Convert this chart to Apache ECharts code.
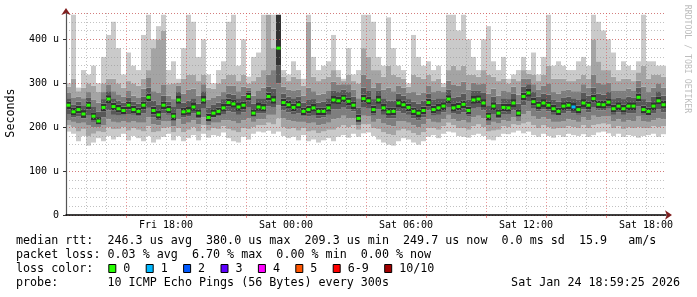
<!DOCTYPE html>
<html><head><meta charset="utf-8">
<script src="https://cdn.jsdelivr.net/npm/echarts@6/dist/echarts.min.js"></script>
<style>html,body{margin:0;padding:0;background:#fff}#c{width:697px;height:297px}</style>
</head><body><div id="c"></div>
<script>
// ---- data: 15-minute bins from Fri 13:00 to Sat 19:00 (sorted ping values, microseconds) ----
const p1 = [190,185,168,180,158,165,175,168,180,172, 178,185,170,180,175,168,180,165,172,178, 185,170,180,168,175,182,170,185,176,182, 180,188,175,168,165,178,172,185,190,188, 192,185,190,180,175,178,170,182,168,172, 165,170,175,168,178,182,176,185,178,186, 188,180,172,165,160,158,168,175,172,165, 160,168,178,182,175,185,190,188,180,178, 176,182,185,180,172,170,178,185,184,188, 192,186,190,182,178,185,180,176,182,178, 185,182,180,184,178,182,188,190,186,180, 185,178,182,180,176,180,182,185,178,184];
const p2 = [204,200,190,196,180,185,190,188,200,195, 196,200,192,198,194,190,202,188,190,198, 200,188,198,188,194,200,190,204,192,198, 196,202,196,192,188,198,196,200,204,204, 210,206,220,200,196,198,192,198,190,192, 186,190,194,194,200,204,200,204,194,206, 206,198,196,188,184,182,192,196,192,186, 182,188,198,198,194,202,210,204,198,198, 194,202,206,200,190,192,194,202,200,206, 204,208,212,204,198,204,200,196,198,198, 202,200,198,204,198,204,206,208,206,198, 202,196,200,198,200,198,198,202,200,202];
const p3 = [215,212,208,210,205,200,200,205,218,212, 210,214,210,214,210,210,222,206,204,214, 214,202,218,206,210,216,206,222,204,210, 210,216,216,214,208,216,220,212,218,218, 228,228,250,220,216,214,212,212,208,210, 204,206,210,218,220,226,220,220,204,226, 224,212,218,208,204,202,214,214,210,204, 200,206,218,212,210,218,228,218,214,216, 210,222,226,220,204,212,208,216,214,222, 214,230,236,224,218,222,218,212,212,214, 218,216,212,222,216,226,222,224,224,214, 218,212,216,214,224,214,212,216,220,218];
const p4 = [230,222,224,220,226,212,206,222,238,228, 226,226,230,228,224,232,244,222,216,232, 228,214,240,222,224,232,220,242,212,222, 224,230,236,234,228,234,246,224,232,232, 248,246,300,238,234,230,232,224,224,226, 220,222,228,240,240,246,240,236,212,246, 242,226,240,228,220,220,236,232,228,220, 216,222,238,226,228,234,246,232,230,234, 224,242,246,238,214,230,220,230,230,238, 224,250,258,242,236,240,236,228,226,232, 236,232,228,240,234,246,238,238,242,228, 234,228,232,232,248,228,226,232,240,234];
const p5 = [241,226,231,221,241,216,206,236,255,238, 233,229,241,231,227,241,259,229,219,241, 231,216,253,226,228,237,223,253,213,223, 227,235,247,244,237,241,261,224,237,235, 261,253,340,247,242,236,242,227,231,235, 227,227,235,253,251,257,250,241,212,256, 251,231,253,235,226,227,246,242,236,227, 223,229,247,231,235,239,255,235,238,243, 229,253,255,246,216,239,223,236,235,246, 224,261,269,249,241,246,241,233,227,239, 241,237,231,246,241,256,243,242,248,233, 239,233,239,239,259,231,227,239,251,242];
const p6 = [259,244,249,239,259,234,223,254,273,256, 251,247,259,249,245,259,277,247,237,259, 249,234,271,244,246,255,241,271,231,241, 245,253,265,262,255,259,279,241,255,253, 279,271,456,265,260,254,260,245,249,253, 245,245,253,271,269,275,268,259,229,274, 269,249,271,253,244,245,264,260,254,245, 241,247,265,249,253,257,273,253,256,261, 247,271,273,264,234,257,241,254,253,264, 241,279,287,267,259,264,259,251,245,257, 259,255,249,264,259,274,261,260,266,251, 257,251,257,257,277,249,245,257,269,260];
const p7 = [266,252,258,250,268,246,235,264,282,266, 260,256,268,258,254,270,290,260,252,272, 258,246,280,256,260,266,254,282,244,252, 256,264,276,274,266,272,284,254,266,266, 292,288,456,276,270,266,270,256,262,264, 256,258,266,284,280,286,280,270,244,290, 284,264,284,266,260,260,276,272,264,258, 254,260,276,262,266,266,286,268,270,276, 262,284,284,278,250,270,254,266,264,276, 254,292,298,280,270,276,274,262,258,268, 270,266,262,278,272,290,276,274,280,264, 268,264,270,268,290,264,258,270,282,272];
const p8 = [278,268,270,266,280,262,256,280,296,282, 275,270,284,272,268,288,312,282,278,296, 272,264,294,276,285,288,272,298,262,268, 272,280,294,294,282,292,290,272,284,290, 320,330,456,292,286,284,286,272,290,282, 274,276,284,304,296,298,298,286,266,320, 310,290,302,286,290,282,294,290,278,280, 274,278,294,280,284,280,306,296,294,304, 286,302,298,300,276,288,272,284,280,292, 274,310,310,298,286,294,300,280,276,284, 286,282,282,298,290,320,302,298,302,284, 284,284,288,284,306,292,280,290,300,290];
const p9 = [292,310,282,290,300,295,280,300,310,310, 300,290,305,300,295,310,330,380,400,420, 298,300,302,310,320,320,305,320,290,288, 300,310,320,320,305,320,300,305,315,330, 456,380,456,315,305,315,310,295,440,315, 305,310,315,330,315,305,320,305,300,380, 360,330,330,315,340,320,315,310,292,320, 315,310,320,305,310,292,330,340,330,340, 320,320,315,330,320,315,305,310,300,310, 305,330,322,320,305,320,340,310,310,310, 305,305,310,320,310,400,350,330,330,315, 305,310,310,305,325,340,310,320,320,315];
const p10 = [300,456,290,330,320,340,300,360,410,440, 380,320,370,340,330,410,456,400,430,456, 330,350,310,380,456,440,360,400,320,300, 330,350,440,456,340,400,315,360,370,456, 456,456,456,330,320,350,330,310,456,360, 330,340,350,410,330,310,380,320,330,456, 456,440,360,340,450,380,340,330,300,410, 360,340,350,330,340,300,456,456,420,456, 400,360,330,400,430,350,330,360,310,320, 330,360,330,370,320,360,456,340,350,340, 330,330,350,360,340,456,440,420,400,370, 330,350,340,330,350,456,350,350,340,340];
const median = [250,235,240,230,250,225,214,245,264,247, 242,238,250,240,236,250,268,238,228,250, 240,225,262,235,237,246,232,262,222,232, 236,244,256,253,246,250,270,232,246,244, 270,262,380,256,251,245,251,236,240,244, 236,236,244,262,260,266,259,250,220,265, 260,240,262,244,235,236,255,251,245,236, 232,238,256,240,244,248,264,244,247,252, 238,262,264,255,225,248,232,245,244,255, 232,270,278,258,250,255,250,242,236,248, 250,246,240,255,250,265,252,251,257,242, 248,242,248,248,268,240,236,248,260,251];
const lost = [0,0,0,0,0,0,0,0,0,0, 0,0,0,0,0,0,0,0,0,0, 0,0,0,0,0,0,0,0,0,0, 0,0,0,0,0,0,0,0,0,0, 0,0,0,0,0,0,0,0,0,0, 0,0,0,0,0,0,0,0,0,0, 0,0,0,0,0,0,0,0,0,0, 0,0,0,0,0,0,0,0,0,0, 0,0,0,0,0,0,0,0,0,0, 0,0,0,0,0,0,0,0,0,0, 0,1,0,0,0,0,0,0,0,0, 0,0,0,0,0,0,0,0,0,0];

const xTickLabels = ['Fri 18:00','Sat 00:00','Sat 06:00','Sat 12:00','Sat 18:00'];
const yTickLabels = ['0','100 u','200 u','300 u','400 u'];
const lossLabels = ['0','1','2','3','4','5','6-9','10/10'];
const lossColors = ['#26ff00','#00b8ff','#0059ff','#5e00ff','#ff00ff','#ff5500','#ff0000','#a10000'];
const lossColorByCount = ['#26ff00','#00b8ff','#0059ff','#5e00ff','#ff00ff','#ff5500','#ff0000','#ff0000','#ff0000','#ff0000','#a10000'];
const legendLine1 = 'median rtt:  246.3 us avg  380.0 us max  209.3 us min  249.7 us now  0.0 ms sd  15.9   am/s';
const legendLine2 = 'packet loss: 0.03 % avg  6.70 % max  0.00 % min  0.00 % now';
const legendLine3 = 'loss color:';
const legendLine4 = 'probe:       10 ICMP Echo Pings (56 Bytes) every 300s';
const stampText = 'Sat Jan 24 18:59:25 2026';
const yTitle = 'Seconds';
const watermark = 'RRDTOOL / TOBI OETIKER';

// ---- build ----
const N = median.length;
function fmt(min){const h=Math.floor(min/60);const d=h>=24?'Sat':'Fri';return d+' '+String(h%24).padStart(2,'0')+':'+String(min%60).padStart(2,'0');}
const binCats = Array.from({length:N},(_,i)=>fmt(13*60+15*i));
const tickCats = Array.from({length:N+1},(_,i)=>fmt(13*60+15*i));
const pings = [p1,p2,p3,p4,p5,p6,p7,p8,p9,p10];
const shades = ['#cacaca','#a4a4a4','#7e7e7e','#585858','#323232','#585858','#7e7e7e','#a4a4a4','#cacaca'];

const series = [{type:'bar',xAxisIndex:0,yAxisIndex:0,stack:'smoke',data:p1.slice(),itemStyle:{color:'rgba(0,0,0,0)'},barCategoryGap:'0%',z:1,silent:true}];
for(let j=0;j<9;j++){
  series.push({type:'bar',xAxisIndex:0,yAxisIndex:0,stack:'smoke',barCategoryGap:'0%',z:1,silent:true,
    data:pings[j+1].map((v,k)=>Math.max(0,v-pings[j][k])),itemStyle:{color:shades[j]}});
}
series.push({type:'scatter',xAxisIndex:0,yAxisIndex:0,symbol:'rect',symbolSize:[4,3],z:5,silent:true,
  data:median,itemStyle:{color:(p)=>lossColorByCount[lost[p.dataIndex]],opacity:1}});

const MONO='"DejaVu Sans Mono", monospace';
const gridLine='rgba(143,143,143,0.55)';
const majorLine='rgba(222,79,79,0.6)';

const CW=7.05, LF='11.7px '+MONO;
const graphic=[
  {type:'text',x:11,y:113,rotation:Math.PI/2,style:{text:yTitle,font:'11.7px '+MONO,fill:'#000',textAlign:'center',verticalAlign:'middle',textVerticalAlign:'middle'}},
  {type:'text',x:687,y:59,rotation:-Math.PI/2,style:{text:watermark,font:'8.2px '+MONO,fill:'#bdbdbd',textAlign:'center',verticalAlign:'middle',textVerticalAlign:'middle'}},
  {type:'text',x:16,y:241,style:{text:legendLine1,font:LF,fill:'#000',verticalAlign:'middle',textVerticalAlign:'middle'}},
  {type:'text',x:16,y:255.3,style:{text:legendLine2,font:LF,fill:'#000',verticalAlign:'middle',textVerticalAlign:'middle'}},
  {type:'text',x:16,y:269,style:{text:legendLine3,font:LF,fill:'#000',verticalAlign:'middle',textVerticalAlign:'middle'}},
  {type:'text',x:16,y:283.3,style:{text:legendLine4,font:LF,fill:'#000',verticalAlign:'middle',textVerticalAlign:'middle'}},
  {type:'text',x:680,y:283.3,style:{text:stampText,font:LF,fill:'#000',textAlign:'right',verticalAlign:'middle',textVerticalAlign:'middle'}}
];
let bx=108.3;
lossLabels.forEach((lab,i)=>{
  graphic.push({type:'rect',shape:{x:bx+0.5,y:264.5,width:7,height:8},style:{fill:lossColors[i],stroke:'#000',lineWidth:1}});
  graphic.push({type:'text',x:bx+15,y:269,style:{text:lab,font:LF,fill:'#000',verticalAlign:'middle',textVerticalAlign:'middle'}});
  bx = bx+15+lab.length*CW+15.35;
});

const option={
  animation:false,
  backgroundColor:'#fff',
  grid:{left:66,right:31,top:13,bottom:82,containLabel:false,outerBoundsMode:'none'},
  xAxis:[
    {type:'category',data:binCats,boundaryGap:true,show:false,gridIndex:0},
    {type:'category',data:tickCats,boundaryGap:false,position:'bottom',gridIndex:0,z:3,
      axisLine:{show:true,symbol:['none','arrow'],symbolSize:[7,7],symbolOffset:[0,6],lineStyle:{color:'#801f1f',width:0}},
      axisTick:{show:false},axisLabel:{show:false},
      splitLine:{show:true,interval:(i)=>i%4===0&&i>0&&i<N&&i%12!==0,lineStyle:{color:gridLine,type:[1,2],width:1}}},
    {type:'category',data:tickCats,boundaryGap:false,position:'bottom',gridIndex:0,z:4,
      axisLine:{show:true,lineStyle:{color:'#000',width:1.5}},
      axisTick:{show:true,interval:(i)=>i%12===0&&i>0&&i<N,length:3,lineStyle:{color:majorLine,width:1}},
      axisLabel:{show:true,interval:(i,v)=>xTickLabels.indexOf(v)>=0,formatter:(v)=>v,fontFamily:MONO,fontSize:10,color:'#000',margin:5},
      splitLine:{show:true,interval:(i)=>i%12===0&&i>0&&i<N,lineStyle:{color:majorLine,type:[1,2],width:1}}}
  ],
  yAxis:[
    {type:'value',min:0,max:460,interval:100,position:'left',gridIndex:0,z:4,
      axisLine:{show:true,onZero:false,lineStyle:{color:'#555',width:1.2}},
      axisTick:{show:true,length:3,lineStyle:{color:'#333'}},
      axisLabel:{formatter:(v)=>(yTickLabels[v/100]!==undefined?yTickLabels[v/100]:''),showMaxLabel:false,fontFamily:MONO,fontSize:10,color:'#000',margin:7},
      splitLine:{show:true,lineStyle:{color:majorLine,type:[1,2],width:1}}},
    {type:'value',min:0,max:460,interval:20,position:'left',gridIndex:0,z:3,
      axisLine:{show:true,onZero:false,symbol:['none','arrow'],symbolSize:[7,7],symbolOffset:[0,5],lineStyle:{color:'#801f1f',width:0}},
      axisTick:{show:false},axisLabel:{show:false},
      splitLine:{show:true,lineStyle:{color:gridLine,type:[1,2],width:1}}}
  ],
  series:series,
  graphic:graphic
};
const chart=echarts.init(document.getElementById('c'),null,{renderer:'canvas',width:697,height:297});
chart.setOption(option);
</script>
</body></html>
